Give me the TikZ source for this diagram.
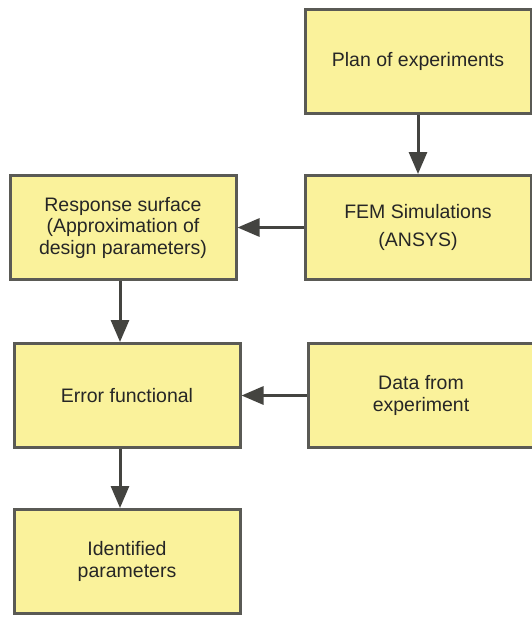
\documentclass[tikz,border=0pt]{standalone}
\usepackage{fontspec}
\setmainfont{Liberation Sans}
\usepackage{xcolor}
\usepackage{tikz}
\usetikzlibrary{arrows.meta}
\usetikzlibrary{positioning}

\definecolor{boxfill}{RGB}{250,242,155}
\definecolor{boxline}{RGB}{90,90,85}
\definecolor{arrowcol}{RGB}{68,68,64}

\begin{document}
\begin{tikzpicture}[x=1pt,y=1pt,>={Triangle[length=22pt,width=18pt]},node distance=59pt and 65pt,font=\fontsize{19.5}{21.5}\selectfont]
			\tikzstyle{block}=[draw=boxline, fill=boxfill, line width=3pt, minimum width=226pt, minimum height=104pt, align=center, inner sep=0pt, text=black!85]
			\tikzstyle{link}=[->, draw=arrowcol, fill=arrowcol, line width=3pt]
			\useasboundingbox (0,0) rectangle (532,-619);
 					 \node[block]          (plan) at (418,-61.5) {Plan of experiments};
 					 \node[block]          (fem) [below=of plan] {FEM Simulations\\[7pt](ANSYS)};
 					 \node[block]          (resp) [left=of fem, xshift=-1pt] {Response surface\\(Approximation of\\design parameters)};
 					 \node[block]          (err) [below=61pt of resp, xshift=4pt] {Error functional};
 					 \node[block]          (data) [right=of err] {Data from\\experiment};
 					 \node[block]          (ident) [below=of err] {Identified\\parameters};

				\draw[link] (plan) -- (fem);
				\draw[link] (fem) -- (resp);
				\draw[link] ([xshift=-3pt]resp.south) -- ([xshift=-7pt]err.north);
				\draw[link] (data) -- (err);
				\draw[link] ([xshift=-7pt]err.south) -- ([xshift=-7pt]ident.north);

	\end{tikzpicture}
\end{document}
